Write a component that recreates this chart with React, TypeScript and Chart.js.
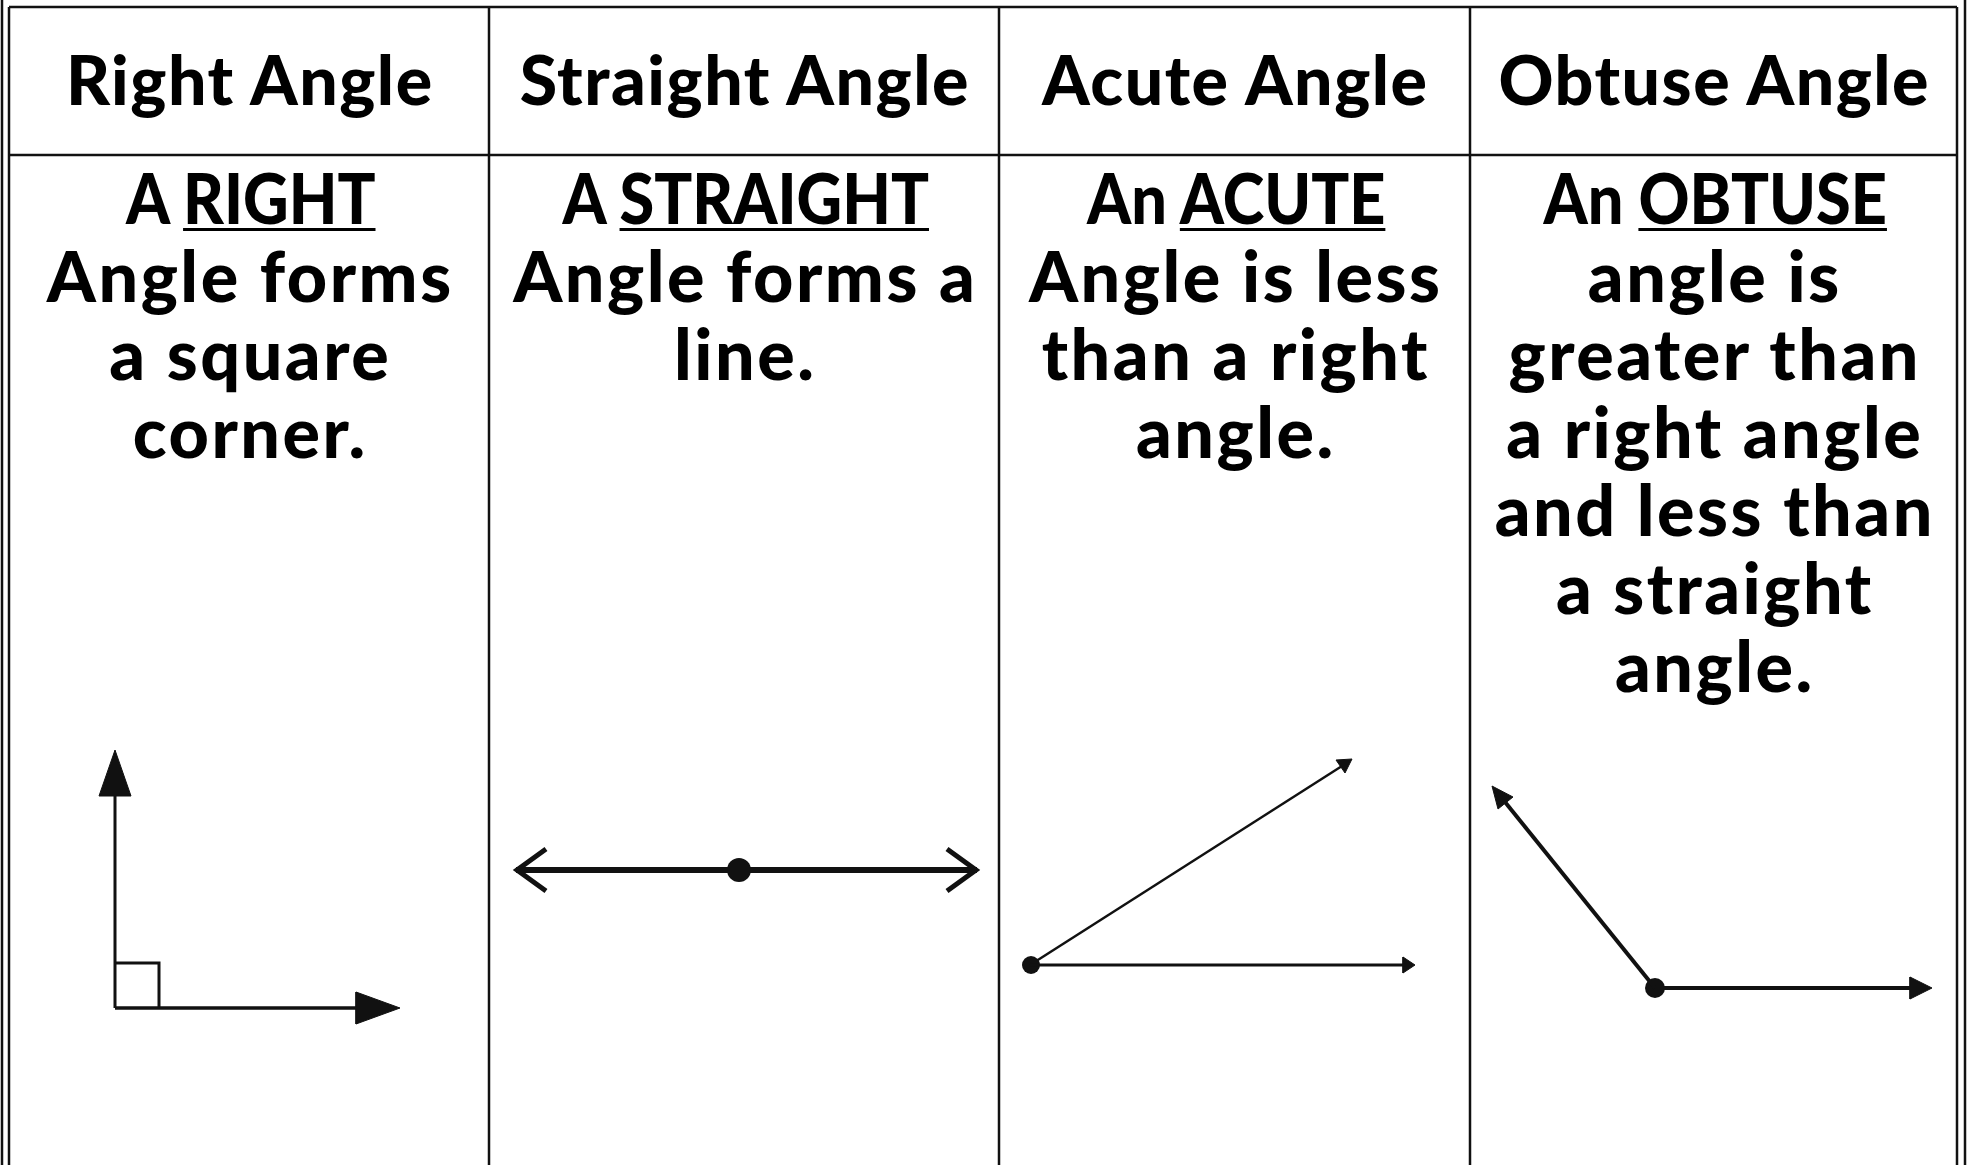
import React, { useEffect, useRef } from "react";
import { Chart, registerables } from "chart.js";

Chart.register(...registerables);

// ---------- Text content ----------
const headers = ["Right Angle", "Straight Angle", "Acute Angle", "Obtuse Angle"];
const articles = ["A", "A", "An", "An"];
const keywords = ["RIGHT", "STRAIGHT", "ACUTE", "OBTUSE"];
const restLines = [
  ["Angle forms", "a square", "corner."],
  ["Angle forms a", "line."],
  ["Angle is less", "than a right", "angle."],
  ["angle is", "greater than", "a right angle", "and less than", "a straight", "angle."],
];

// ---------- Table grid (page units) ----------
const columnEdges = [9, 489, 999, 1470, 1957];
const tableTop = 7;
const headerBottom = 155;
const pageBottom = 1165;
const outerLeft = 2;
const outerRight = 1965;

// ---------- Figure geometry (page units) ----------
// Right angle
const rightVertical = [[115, 795], [115, 1008]];
const rightHorizontal = [[115, 1008], [357, 1008]];
const rightSquare = [[115, 963], [159, 963], [159, 1008]];
const rightArrowUp = [[115, 750], [131, 796], [99, 796], [115, 750]];
const rightArrowRight = [[400, 1008], [356, 992], [356, 1024], [400, 1008]];
// Straight angle
const straightLine = [[516, 870], [977, 870]];
const straightLeftHead = [[546, 849], [517, 870], [546, 891]];
const straightRightHead = [[947, 849], [976, 870], [947, 891]];
const straightVertex = [[739, 870]];
// Acute angle
const acuteBase = [[1030, 965], [1406, 965]];
const acuteUpper = [[1030, 965], [1342, 766]];
const acuteBaseHead = [[1415, 965], [1403, 957], [1403, 973], [1415, 965]];
const acuteUpperHead = [[1352, 759], [1336, 760], [1345, 773], [1352, 759]];
const acuteVertex = [[1031, 965]];
// Obtuse angle
const obtuseBase = [[1655, 988], [1914, 988]];
const obtuseUpper = [[1655, 988], [1505, 802]];
const obtuseBaseHead = [[1932, 988], [1910, 977], [1910, 999], [1932, 988]];
const obtuseUpperHead = [[1492, 786], [1513, 797], [1498, 809], [1492, 786]];
const obtuseVertex = [[1655, 988]];

const W = 1967;
const H = 1165;
const INK = "#111111";

const pts = (arr: number[][]) => arr.map(([x, y]) => ({ x, y }));

function lineDs(arr: number[][], width: number, join: CanvasLineJoin = "miter") {
  return {
    data: pts(arr),
    showLine: true,
    borderColor: INK,
    borderWidth: width,
    pointRadius: 0,
    fill: false,
    tension: 0,
    borderCapStyle: "butt" as CanvasLineCap,
    borderJoinStyle: join,
  };
}
function polyDs(arr: number[][]) {
  return {
    data: pts(arr),
    showLine: true,
    borderColor: INK,
    backgroundColor: INK,
    borderWidth: 1,
    pointRadius: 0,
    fill: "shape",
    tension: 0,
  };
}
function dotDs(arr: number[][], r: number) {
  return {
    data: pts(arr),
    showLine: false,
    pointRadius: r,
    pointBackgroundColor: INK,
    pointBorderColor: INK,
    pointBorderWidth: 0,
  };
}

export default function App() {
  const ref = useRef<HTMLCanvasElement | null>(null);

  useEffect(() => {
    if (!ref.current) return;
    const gridW = 2.5;
    const grid: any[] = [
      lineDs([[outerLeft, 0], [outerLeft, pageBottom]], gridW),
      lineDs([[outerRight, 0], [outerRight, pageBottom]], gridW),
      lineDs([[columnEdges[0], tableTop], [columnEdges[4], tableTop]], gridW),
      lineDs([[columnEdges[0], headerBottom], [columnEdges[4], headerBottom]], gridW),
      ...columnEdges.map((x) => lineDs([[x, tableTop], [x, pageBottom]], gridW)),
    ];
    const figures: any[] = [
      lineDs(rightVertical, 3),
      lineDs(rightHorizontal, 3.5),
      lineDs(rightSquare, 3),
      polyDs(rightArrowUp),
      polyDs(rightArrowRight),
      lineDs(straightLine, 6),
      lineDs(straightLeftHead, 5),
      lineDs(straightRightHead, 5),
      dotDs(straightVertex, 12),
      lineDs(acuteBase, 3),
      lineDs(acuteUpper, 2.5),
      polyDs(acuteBaseHead),
      polyDs(acuteUpperHead),
      dotDs(acuteVertex, 9),
      lineDs(obtuseBase, 4),
      lineDs(obtuseUpper, 4),
      polyDs(obtuseBaseHead),
      polyDs(obtuseUpperHead),
      dotDs(obtuseVertex, 10),
    ];
    const chart = new Chart(ref.current, {
      type: "scatter",
      data: { datasets: [...grid, ...figures] },
      options: {
        animation: false,
        responsive: false,
        maintainAspectRatio: false,
        events: [],
        layout: { padding: 0, autoPadding: false },
        plugins: { legend: { display: false }, tooltip: { enabled: false } },
        scales: {
          x: { type: "linear", min: 0, max: W, display: false },
          y: { type: "linear", min: 0, max: H, reverse: true, display: false },
        },
      } as any,
    });
    return () => chart.destroy();
  }, []);

  const font = "Lato, 'DejaVu Sans', sans-serif";
  const textStyle: React.CSSProperties = {
    position: "absolute",
    textAlign: "center",
    fontFamily: font,
    fontWeight: 900,
    color: "#000",
    whiteSpace: "nowrap",
  };

  return (
    <div style={{ position: "fixed", left: 0, top: 0, width: W, height: H, background: "#fff", overflow: "hidden" }}>
      <canvas ref={ref} width={W} height={H} style={{ position: "absolute", left: 0, top: 0, width: W, height: H }} />
      {headers.map((h, i) => (
        <div
          key={"h" + i}
          style={{
            ...textStyle,
            fontSize: 68,
            letterSpacing: "1.5px",
            paddingLeft: 1.5,
            boxSizing: "border-box",
            left: columnEdges[i],
            width: columnEdges[i + 1] - columnEdges[i],
            top: 79 - 39,
            lineHeight: "78px",
          }}
        >
          {h}
        </div>
      ))}
      {keywords.map((k, i) => (
        <div
          key={"b" + i}
          style={{
            ...textStyle,
            fontSize: 70,
            letterSpacing: "2.5px",
            paddingLeft: 2.5,
            boxSizing: "border-box",
            left: columnEdges[i],
            width: columnEdges[i + 1] - columnEdges[i],
            top: 197 - 39,
            lineHeight: "78px",
          }}
        >
          <div style={{ letterSpacing: 0, paddingLeft: 0, transform: "scaleX(0.9)", transformOrigin: "50% 50%" }}>
            {articles[i] + " "}
            <span style={{ textDecoration: "underline", textDecorationThickness: "3px", textUnderlineOffset: "4px" }}>{k}</span>
          </div>
          {restLines[i].map((l, j) => (
            <div key={j}>{l}</div>
          ))}
        </div>
      ))}
    </div>
  );
}
